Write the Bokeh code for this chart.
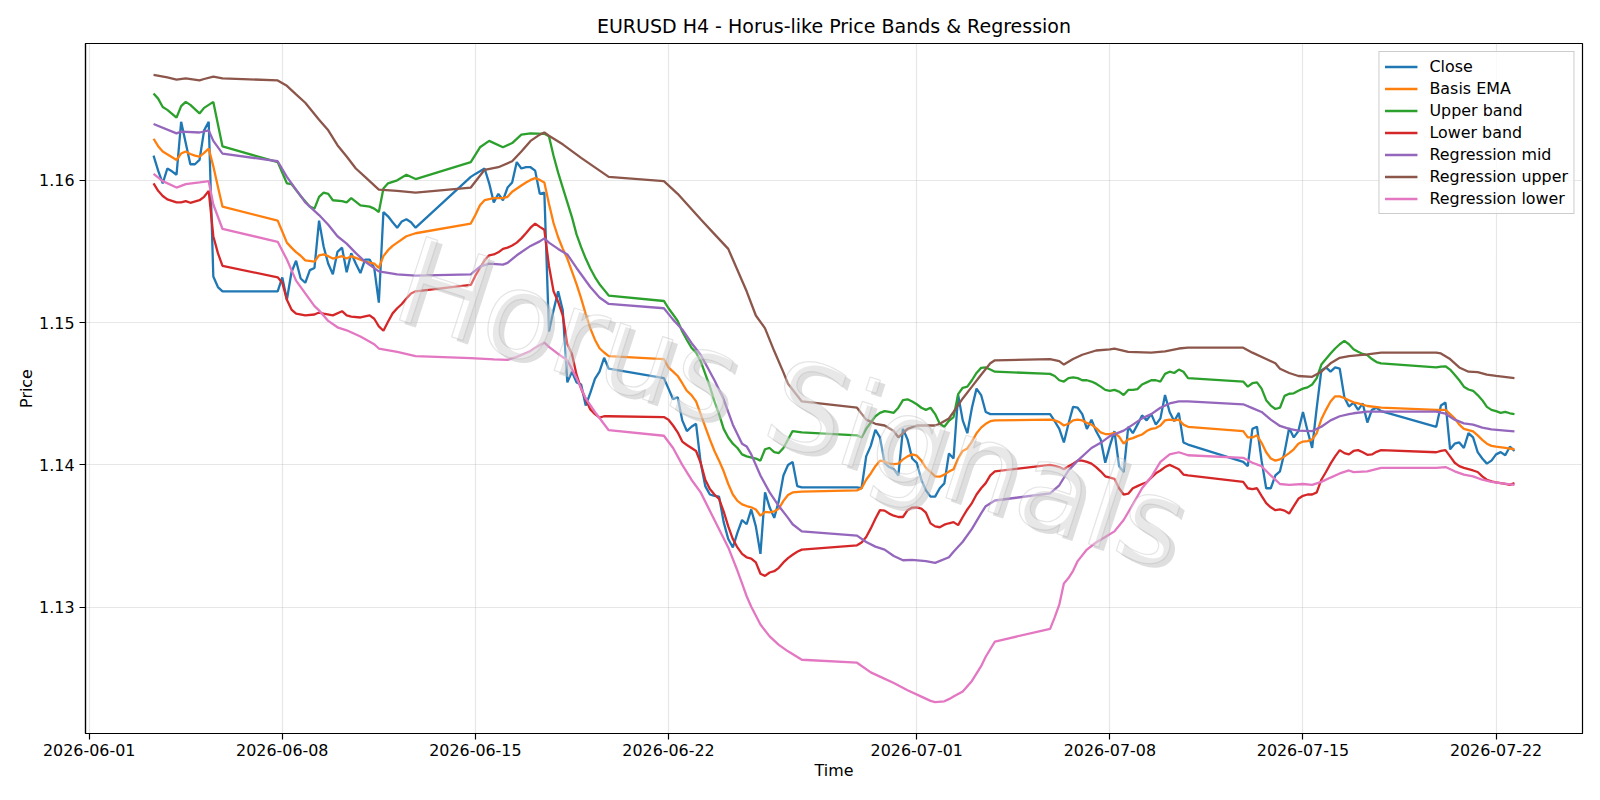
import pandas as pd
from bokeh.plotting import figure
from bokeh.models import (FixedTicker, DatetimeTickFormatter, NumeralTickFormatter,
                          Range1d, Label, Legend, LegendItem)
from bokeh.embed import file_html
from bokeh.resources import INLINE

# ---------------------------------------------------------------- data
# H4 closes, one value per trading bar (Sun 20:00 + Mon..Fri 00:00-20:00)
close_start = "2026-06-03 08:00"
close_end = "2026-07-22 16:00"
close_values = [
    1.16173, 1.16068, 1.15979, 1.16083,                      # 06-03
    1.16063, 1.16039, 1.16411, 1.16262, 1.16113, 1.16113,    # 06-04
    1.16143, 1.16351, 1.16411, 1.15324, 1.15250, 1.15220,    # 06-05
    1.15220,                                                 # 06-07
    1.15318, 1.15161, 1.15354, 1.15435, 1.15310, 1.15280,    # 06-08
    1.15369, 1.15384, 1.15717, 1.15533, 1.15414, 1.15340,    # 06-09
    1.15497, 1.15527, 1.15354, 1.15488, 1.15414, 1.15348,    # 06-10
    1.15443, 1.15443, 1.15384, 1.15140, 1.15777, 1.15747,    # 06-11
    1.15705, 1.15667, 1.15711, 1.15726, 1.15705, 1.15667,    # 06-12
    1.16024,                                                 # 06-14
    1.16045, 1.16063, 1.16083, 1.15979, 1.15845, 1.15905,    # 06-15
    1.15860, 1.15949, 1.15985, 1.16128, 1.16083, 1.16092,    # 06-16
    1.16092, 1.16068, 1.15905, 1.15914, 1.14938, 1.15086,    # 06-17
    1.15220, 1.15086, 1.14580, 1.14655, 1.14580, 1.14565,    # 06-18
    1.14417, 1.14506, 1.14604, 1.14655, 1.14753, 1.14676,    # 06-19
    1.14610,                                                 # 06-21
    1.14536, 1.14461, 1.14476, 1.14313, 1.14238, 1.14268,    # 06-22
    1.14289, 1.14015, 1.13851, 1.13792, 1.13783, 1.13777,    # 06-23
    1.13598, 1.13479, 1.13420, 1.13524, 1.13613, 1.13583,    # 06-24
    1.13687, 1.13568, 1.13375, 1.13807, 1.13702, 1.13628,    # 06-25
    1.13747, 1.13926, 1.14000, 1.14021, 1.13851, 1.13842,    # 06-26
    1.13842,                                                 # 06-28
    1.13836, 1.14060, 1.14134, 1.14247, 1.14193, 1.14015,    # 06-29
    1.13985, 1.13970, 1.13926, 1.14253, 1.14179, 1.14045,    # 06-30
    1.14015, 1.13896, 1.13821, 1.13777, 1.13777, 1.13836,    # 07-01
    1.13870, 1.14080, 1.14045, 1.14491, 1.14313, 1.14223,    # 07-02
    1.14402, 1.14536, 1.14491, 1.14372, 1.14357, 1.14357,    # 07-03
    1.14357,                                                 # 07-05
    1.14307, 1.14253, 1.14158, 1.14289, 1.14408, 1.14402,    # 07-06
    1.14357, 1.14253, 1.14318, 1.14238, 1.14179, 1.14015,    # 07-07
    1.14134, 1.14238, 1.13991, 1.13950, 1.14268, 1.14223,    # 07-08
    1.14283, 1.14348, 1.14313, 1.14357, 1.14283, 1.14327,    # 07-09
    1.14491, 1.14372, 1.14307, 1.14366, 1.14158, 1.14143,    # 07-10
    1.14021,                                                 # 07-12
    1.13991, 1.14253, 1.14268, 1.14030, 1.13836, 1.13836,    # 07-13
    1.13926, 1.13955, 1.14090, 1.14259, 1.14193, 1.14238,    # 07-14
    1.14372, 1.14238, 1.14119, 1.14402, 1.14664, 1.14685,    # 07-15
    1.14655, 1.14685, 1.14676, 1.14476, 1.14410, 1.14438,    # 07-16
    1.14387, 1.14432, 1.14298, 1.14387, 1.14402, 1.14378,    # 07-17
    1.14268,                                                 # 07-19
    1.14417, 1.14438, 1.14110, 1.14149, 1.14158, 1.14119,    # 07-20
    1.14223, 1.14193, 1.14090, 1.14045, 1.14009, 1.14030,    # 07-21
    1.14074, 1.14090, 1.14068, 1.14128, 1.14098,             # 07-22
]

# indicator lines, as ("MM-DD HH", value) vertices
basis_ema = [
    ("06-03 08", 1.16292), ("06-03 12", 1.16240), ("06-03 16", 1.16202), ("06-04 04", 1.16143),
    ("06-04 08", 1.16188), ("06-04 12", 1.16202), ("06-04 16", 1.16185), ("06-04 20", 1.16173),
    ("06-05 00", 1.16167), ("06-05 04", 1.16193), ("06-05 08", 1.16223), ("06-05 12", 1.16098),
    ("06-05 16", 1.15955), ("06-05 20", 1.15815), ("06-07 20", 1.15717), ("06-08 00", 1.15640),
    ("06-08 04", 1.15562), ("06-08 08", 1.15527), ("06-08 12", 1.15495), ("06-08 16", 1.15470),
    ("06-08 20", 1.15437), ("06-09 04", 1.15429), ("06-09 08", 1.15473), ("06-09 12", 1.15479),
    ("06-09 16", 1.15467), ("06-09 20", 1.15450), ("06-10 00", 1.15458), ("06-10 04", 1.15467),
    ("06-10 08", 1.15450), ("06-10 12", 1.15467), ("06-10 20", 1.15443), ("06-11 00", 1.15429),
    ("06-11 08", 1.15414), ("06-11 12", 1.15384), ("06-11 16", 1.15467), ("06-11 20", 1.15509),
    ("06-12 00", 1.15539), ("06-12 04", 1.15562), ("06-12 12", 1.15607), ("06-12 20", 1.15628),
    ("06-14 20", 1.15696), ("06-15 00", 1.15756), ("06-15 04", 1.15824), ("06-15 08", 1.15860),
    ("06-15 16", 1.15875), ("06-16 00", 1.15875), ("06-16 04", 1.15884), ("06-16 08", 1.15920),
    ("06-16 16", 1.15964), ("06-16 20", 1.15985), ("06-17 00", 1.16003), ("06-17 04", 1.16015),
    ("06-17 08", 1.16003), ("06-17 12", 1.15985), ("06-17 16", 1.15835), ("06-17 20", 1.15700),
    ("06-18 00", 1.15600), ("06-18 04", 1.15520), ("06-18 08", 1.15450), ("06-18 12", 1.15360),
    ("06-18 16", 1.15270), ("06-18 20", 1.15170), ("06-19 00", 1.15060), ("06-19 04", 1.14960),
    ("06-19 08", 1.14880), ("06-19 12", 1.14820), ("06-19 16", 1.14790), ("06-19 20", 1.14765),
    ("06-21 20", 1.14744), ("06-22 00", 1.14685), ("06-22 04", 1.14655), ("06-22 08", 1.14625),
    ("06-22 12", 1.14574), ("06-22 16", 1.14521), ("06-22 20", 1.14491), ("06-23 00", 1.14446),
    ("06-23 04", 1.14357), ("06-23 08", 1.14268), ("06-23 12", 1.14179), ("06-23 16", 1.14098),
    ("06-23 20", 1.14030), ("06-24 00", 1.13955), ("06-24 04", 1.13866), ("06-24 08", 1.13792),
    ("06-24 12", 1.13747), ("06-24 16", 1.13723), ("06-24 20", 1.13711), ("06-25 00", 1.13702),
    ("06-25 04", 1.13687), ("06-25 08", 1.13643), ("06-25 12", 1.13670), ("06-25 16", 1.13667),
    ("06-25 20", 1.13673), ("06-26 00", 1.13693), ("06-26 04", 1.13747), ("06-26 08", 1.13789),
    ("06-26 12", 1.13807), ("06-26 20", 1.13812), ("06-28 20", 1.13821), ("06-29 00", 1.13836),
    ("06-29 04", 1.13896), ("06-29 08", 1.13940), ("06-29 12", 1.13991), ("06-29 16", 1.14030),
    ("06-29 20", 1.14024), ("06-30 00", 1.14009), ("06-30 04", 1.14006), ("06-30 08", 1.14009),
    ("06-30 12", 1.14039), ("06-30 16", 1.14060), ("06-30 20", 1.14074), ("07-01 00", 1.14065),
    ("07-01 04", 1.14030), ("07-01 08", 1.13979), ("07-01 12", 1.13950), ("07-01 16", 1.13920),
    ("07-01 20", 1.13917), ("07-02 00", 1.13932), ("07-02 04", 1.13953), ("07-02 08", 1.13970),
    ("07-02 12", 1.14045), ("07-02 16", 1.14098), ("07-02 20", 1.14116), ("07-03 00", 1.14164),
    ("07-03 04", 1.14223), ("07-03 08", 1.14262), ("07-03 12", 1.14289), ("07-03 16", 1.14307),
    ("07-03 20", 1.14313), ("07-05 20", 1.14318), ("07-06 00", 1.14313), ("07-06 04", 1.14301),
    ("07-06 08", 1.14277), ("07-06 12", 1.14289), ("07-06 16", 1.14313), ("07-06 20", 1.14318),
    ("07-07 00", 1.14313), ("07-07 04", 1.14295), ("07-07 08", 1.14283), ("07-07 12", 1.14259),
    ("07-07 16", 1.14229), ("07-07 20", 1.14217), ("07-08 00", 1.14217), ("07-08 04", 1.14226),
    ("07-08 08", 1.14199), ("07-08 12", 1.14149), ("07-08 16", 1.14179), ("07-08 20", 1.14188),
    ("07-09 00", 1.14202), ("07-09 04", 1.14214), ("07-09 08", 1.14238), ("07-09 12", 1.14253),
    ("07-09 16", 1.14259), ("07-09 20", 1.14277), ("07-10 00", 1.14313), ("07-10 04", 1.14318),
    ("07-10 08", 1.14313), ("07-10 12", 1.14318), ("07-10 16", 1.14283), ("07-10 20", 1.14268),
    ("07-12 20", 1.14238), ("07-13 00", 1.14193), ("07-13 04", 1.14193), ("07-13 08", 1.14208),
    ("07-13 12", 1.14155), ("07-13 16", 1.14089), ("07-13 20", 1.14045), ("07-14 00", 1.14030),
    ("07-14 04", 1.14039), ("07-14 08", 1.14060), ("07-14 12", 1.14083), ("07-14 16", 1.14110),
    ("07-14 20", 1.14149), ("07-15 00", 1.14164), ("07-15 04", 1.14167), ("07-15 08", 1.14179),
    ("07-15 12", 1.14223), ("07-15 16", 1.14321), ("07-15 20", 1.14387), ("07-16 00", 1.14446),
    ("07-16 04", 1.14482), ("07-16 08", 1.14482), ("07-16 12", 1.14470), ("07-16 16", 1.14455),
    ("07-16 20", 1.14440), ("07-17 00", 1.14432), ("07-17 08", 1.14414), ("07-17 20", 1.14402),
    ("07-19 20", 1.14387), ("07-20 04", 1.14387), ("07-20 08", 1.14357), ("07-20 12", 1.14327),
    ("07-20 16", 1.14283), ("07-20 20", 1.14253), ("07-21 00", 1.14244), ("07-21 04", 1.14235),
    ("07-21 08", 1.14208), ("07-21 12", 1.14176), ("07-21 16", 1.14149), ("07-21 20", 1.14134),
    ("07-22 00", 1.14128), ("07-22 08", 1.14119), ("07-22 16", 1.14110),
]

upper_band = [
    ("06-03 08", 1.16610), ("06-03 12", 1.16574), ("06-03 16", 1.16515), ("06-03 20", 1.16495),
    ("06-04 04", 1.16440), ("06-04 08", 1.16521), ("06-04 12", 1.16551), ("06-04 16", 1.16530),
    ("06-05 00", 1.16470), ("06-05 04", 1.16509), ("06-05 08", 1.16530), ("06-05 12", 1.16551),
    ("06-05 20", 1.16238), ("06-07 20", 1.16128), ("06-08 04", 1.15979), ("06-08 08", 1.15973),
    ("06-08 16", 1.15890), ("06-09 00", 1.15815), ("06-09 04", 1.15801), ("06-09 08", 1.15884),
    ("06-09 12", 1.15914), ("06-09 16", 1.15905), ("06-09 20", 1.15860), ("06-10 04", 1.15854),
    ("06-10 08", 1.15845), ("06-10 12", 1.15875), ("06-10 20", 1.15824), ("06-11 04", 1.15815),
    ("06-11 08", 1.15801), ("06-11 12", 1.15777), ("06-11 16", 1.15943), ("06-11 20", 1.15979),
    ("06-12 04", 1.16000), ("06-12 12", 1.16039), ("06-12 20", 1.16009), ("06-14 20", 1.16128),
    ("06-15 04", 1.16232), ("06-15 12", 1.16277), ("06-16 00", 1.16232), ("06-16 08", 1.16262),
    ("06-16 16", 1.16321), ("06-17 00", 1.16330), ("06-17 12", 1.16327), ("06-17 16", 1.16310),
    ("06-17 20", 1.16173), ("06-18 00", 1.16054), ("06-18 04", 1.15949), ("06-18 08", 1.15845),
    ("06-18 12", 1.15741), ("06-18 16", 1.15620), ("06-18 20", 1.15530), ("06-19 00", 1.15450),
    ("06-19 04", 1.15380), ("06-19 08", 1.15320), ("06-19 12", 1.15270), ("06-19 16", 1.15230),
    ("06-19 20", 1.15190), ("06-21 20", 1.15152), ("06-22 00", 1.15101), ("06-22 04", 1.15057),
    ("06-22 08", 1.15012), ("06-22 12", 1.14938), ("06-22 16", 1.14878), ("06-22 20", 1.14824),
    ("06-23 00", 1.14789), ("06-23 04", 1.14729), ("06-23 08", 1.14640), ("06-23 12", 1.14551),
    ("06-23 16", 1.14446), ("06-23 20", 1.14357), ("06-24 00", 1.14253), ("06-24 04", 1.14193),
    ("06-24 08", 1.14149), ("06-24 12", 1.14119), ("06-24 16", 1.14074), ("06-24 20", 1.14060),
    ("06-25 04", 1.14045), ("06-25 08", 1.14030), ("06-25 12", 1.14110), ("06-25 16", 1.14119),
    ("06-25 20", 1.14090), ("06-26 00", 1.14083), ("06-26 04", 1.14119), ("06-26 08", 1.14179),
    ("06-26 12", 1.14238), ("06-26 20", 1.14229), ("06-28 20", 1.14208), ("06-29 00", 1.14193),
    ("06-29 04", 1.14253), ("06-29 08", 1.14298), ("06-29 12", 1.14342), ("06-29 16", 1.14366),
    ("06-29 20", 1.14378), ("06-30 00", 1.14372), ("06-30 04", 1.14366), ("06-30 08", 1.14402),
    ("06-30 12", 1.14455), ("06-30 16", 1.14461), ("06-30 20", 1.14446), ("07-01 00", 1.14426),
    ("07-01 04", 1.14402), ("07-01 08", 1.14387), ("07-01 12", 1.14402), ("07-01 16", 1.14357),
    ("07-01 20", 1.14289), ("07-02 00", 1.14268), ("07-02 04", 1.14310), ("07-02 08", 1.14336),
    ("07-02 12", 1.14497), ("07-02 16", 1.14542), ("07-02 20", 1.14550), ("07-03 00", 1.14595),
    ("07-03 04", 1.14646), ("07-03 08", 1.14682), ("07-03 12", 1.14685), ("07-03 16", 1.14670),
    ("07-03 20", 1.14655), ("07-05 20", 1.14640), ("07-06 00", 1.14625), ("07-06 04", 1.14595),
    ("07-06 08", 1.14586), ("07-06 12", 1.14610), ("07-06 16", 1.14616), ("07-06 20", 1.14610),
    ("07-07 00", 1.14595), ("07-07 04", 1.14595), ("07-07 08", 1.14586), ("07-07 12", 1.14571),
    ("07-07 16", 1.14550), ("07-07 20", 1.14527), ("07-08 00", 1.14521), ("07-08 04", 1.14527),
    ("07-08 08", 1.14515), ("07-08 12", 1.14491), ("07-08 16", 1.14527), ("07-08 20", 1.14527),
    ("07-09 00", 1.14533), ("07-09 04", 1.14565), ("07-09 08", 1.14580), ("07-09 12", 1.14595),
    ("07-09 16", 1.14595), ("07-09 20", 1.14586), ("07-10 00", 1.14640), ("07-10 04", 1.14655),
    ("07-10 08", 1.14646), ("07-10 12", 1.14670), ("07-10 16", 1.14655), ("07-10 20", 1.14610),
    ("07-12 20", 1.14586), ("07-13 00", 1.14550), ("07-13 04", 1.14574), ("07-13 08", 1.14580),
    ("07-13 12", 1.14536), ("07-13 16", 1.14455), ("07-13 20", 1.14417), ("07-14 00", 1.14393),
    ("07-14 04", 1.14402), ("07-14 08", 1.14485), ("07-14 12", 1.14500), ("07-14 16", 1.14503),
    ("07-14 20", 1.14521), ("07-15 00", 1.14536), ("07-15 04", 1.14545), ("07-15 08", 1.14565),
    ("07-15 12", 1.14610), ("07-15 16", 1.14705), ("07-15 20", 1.14744), ("07-16 00", 1.14783),
    ("07-16 04", 1.14818), ("07-16 08", 1.14848), ("07-16 12", 1.14872), ("07-16 16", 1.14848),
    ("07-16 20", 1.14813), ("07-17 00", 1.14795), ("07-17 04", 1.14780), ("07-17 08", 1.14771),
    ("07-17 12", 1.14744), ("07-17 16", 1.14723), ("07-17 20", 1.14714), ("07-19 20", 1.14685),
    ("07-20 00", 1.14691), ("07-20 04", 1.14693), ("07-20 08", 1.14670), ("07-20 12", 1.14634),
    ("07-20 16", 1.14595), ("07-20 20", 1.14550), ("07-21 00", 1.14530), ("07-21 04", 1.14521),
    ("07-21 08", 1.14491), ("07-21 12", 1.14455), ("07-21 16", 1.14408), ("07-21 20", 1.14387),
    ("07-22 00", 1.14378), ("07-22 04", 1.14366), ("07-22 08", 1.14372), ("07-22 12", 1.14363),
    ("07-22 16", 1.14357),
]

lower_band = [
    ("06-03 08", 1.15979), ("06-03 12", 1.15926), ("06-03 16", 1.15890), ("06-03 20", 1.15866),
    ("06-04 04", 1.15845), ("06-04 08", 1.15845), ("06-04 12", 1.15854), ("06-04 16", 1.15842),
    ("06-05 00", 1.15860), ("06-05 04", 1.15884), ("06-05 08", 1.15926), ("06-05 12", 1.15607),
    ("06-05 16", 1.15488), ("06-05 20", 1.15399), ("06-07 20", 1.15318), ("06-08 00", 1.15280),
    ("06-08 04", 1.15161), ("06-08 08", 1.15092), ("06-08 12", 1.15063), ("06-08 20", 1.15051),
    ("06-09 04", 1.15057), ("06-09 08", 1.15071), ("06-09 12", 1.15063), ("06-09 20", 1.15051),
    ("06-10 04", 1.15080), ("06-10 08", 1.15051), ("06-10 12", 1.15042), ("06-10 20", 1.15036),
    ("06-11 04", 1.15051), ("06-11 08", 1.15027), ("06-11 12", 1.14973), ("06-11 16", 1.14943),
    ("06-11 20", 1.15006), ("06-12 00", 1.15065), ("06-12 04", 1.15101), ("06-12 08", 1.15131),
    ("06-12 12", 1.15170), ("06-12 16", 1.15205), ("06-12 20", 1.15220), ("06-14 20", 1.15265),
    ("06-15 00", 1.15330), ("06-15 04", 1.15384), ("06-15 08", 1.15438), ("06-15 12", 1.15473),
    ("06-15 16", 1.15479), ("06-15 20", 1.15494), ("06-16 00", 1.15518), ("06-16 04", 1.15527),
    ("06-16 08", 1.15542), ("06-16 12", 1.15562), ("06-16 16", 1.15592), ("06-16 20", 1.15628),
    ("06-17 00", 1.15667), ("06-17 04", 1.15696), ("06-17 08", 1.15673), ("06-17 12", 1.15652),
    ("06-17 16", 1.15400), ("06-17 20", 1.15220), ("06-18 00", 1.15146), ("06-18 04", 1.15050),
    ("06-18 08", 1.14848), ("06-18 12", 1.14780), ("06-18 16", 1.14634), ("06-18 20", 1.14536),
    ("06-19 00", 1.14461), ("06-19 04", 1.14390), ("06-19 08", 1.14357), ("06-19 12", 1.14333),
    ("06-19 16", 1.14342), ("06-19 20", 1.14342), ("06-21 20", 1.14336), ("06-22 00", 1.14318),
    ("06-22 04", 1.14277), ("06-22 08", 1.14229), ("06-22 12", 1.14164), ("06-22 16", 1.14140),
    ("06-22 20", 1.14119), ("06-23 00", 1.14098), ("06-23 04", 1.14015), ("06-23 08", 1.13896),
    ("06-23 12", 1.13830), ("06-23 16", 1.13792), ("06-23 20", 1.13762), ("06-24 00", 1.13673),
    ("06-24 04", 1.13568), ("06-24 08", 1.13479), ("06-24 12", 1.13420), ("06-24 16", 1.13375),
    ("06-24 20", 1.13351), ("06-25 00", 1.13342), ("06-25 04", 1.13315), ("06-25 08", 1.13235),
    ("06-25 12", 1.13220), ("06-25 16", 1.13244), ("06-25 20", 1.13253), ("06-26 00", 1.13277),
    ("06-26 04", 1.13315), ("06-26 08", 1.13345), ("06-26 12", 1.13369), ("06-26 16", 1.13390),
    ("06-26 20", 1.13405), ("06-28 20", 1.13435), ("06-29 00", 1.13455), ("06-29 04", 1.13494),
    ("06-29 08", 1.13554), ("06-29 12", 1.13622), ("06-29 16", 1.13682), ("06-29 20", 1.13679),
    ("06-30 00", 1.13658), ("06-30 04", 1.13643), ("06-30 08", 1.13634), ("06-30 12", 1.13634),
    ("06-30 16", 1.13682), ("06-30 20", 1.13700), ("07-01 00", 1.13702), ("07-01 04", 1.13693),
    ("07-01 08", 1.13664), ("07-01 12", 1.13589), ("07-01 16", 1.13568), ("07-01 20", 1.13562),
    ("07-02 00", 1.13580), ("07-02 04", 1.13590), ("07-02 08", 1.13598), ("07-02 12", 1.13577),
    ("07-02 16", 1.13634), ("07-02 20", 1.13687), ("07-03 00", 1.13732), ("07-03 04", 1.13792),
    ("07-03 08", 1.13836), ("07-03 12", 1.13872), ("07-03 16", 1.13926), ("07-03 20", 1.13955),
    ("07-05 20", 1.14000), ("07-06 00", 1.13994), ("07-06 04", 1.13985), ("07-06 08", 1.13970),
    ("07-06 12", 1.13991), ("07-06 16", 1.14009), ("07-06 20", 1.14030), ("07-07 00", 1.14030),
    ("07-07 04", 1.14021), ("07-07 08", 1.14009), ("07-07 12", 1.13985), ("07-07 16", 1.13955),
    ("07-07 20", 1.13920), ("07-08 00", 1.13911), ("07-08 04", 1.13902), ("07-08 08", 1.13836),
    ("07-08 12", 1.13792), ("07-08 16", 1.13798), ("07-08 20", 1.13836), ("07-09 00", 1.13851),
    ("07-09 04", 1.13866), ("07-09 08", 1.13878), ("07-09 12", 1.13911), ("07-09 16", 1.13941),
    ("07-09 20", 1.13961), ("07-10 00", 1.13985), ("07-10 04", 1.14000), ("07-10 08", 1.13985),
    ("07-10 12", 1.13970), ("07-10 16", 1.13932), ("07-10 20", 1.13926), ("07-12 20", 1.13881),
    ("07-13 00", 1.13836), ("07-13 04", 1.13830), ("07-13 08", 1.13836), ("07-13 12", 1.13783),
    ("07-13 16", 1.13732), ("07-13 20", 1.13702), ("07-14 00", 1.13682), ("07-14 04", 1.13687),
    ("07-14 08", 1.13679), ("07-14 12", 1.13658), ("07-14 16", 1.13711), ("07-14 20", 1.13762),
    ("07-15 00", 1.13783), ("07-15 04", 1.13792), ("07-15 08", 1.13792), ("07-15 12", 1.13807),
    ("07-15 16", 1.13896), ("07-15 20", 1.13950), ("07-16 00", 1.14009), ("07-16 04", 1.14060),
    ("07-16 08", 1.14104), ("07-16 12", 1.14083), ("07-16 16", 1.14074), ("07-16 20", 1.14098),
    ("07-17 00", 1.14104), ("07-17 04", 1.14089), ("07-17 08", 1.14071), ("07-17 12", 1.14074),
    ("07-17 16", 1.14092), ("07-17 20", 1.14104), ("07-19 20", 1.14089), ("07-20 00", 1.14098),
    ("07-20 04", 1.14104), ("07-20 08", 1.14060), ("07-20 12", 1.14015), ("07-20 16", 1.13991),
    ("07-20 20", 1.13979), ("07-21 00", 1.13970), ("07-21 04", 1.13961), ("07-21 08", 1.13950),
    ("07-21 12", 1.13920), ("07-21 16", 1.13896), ("07-21 20", 1.13884), ("07-22 00", 1.13878),
    ("07-22 08", 1.13866), ("07-22 12", 1.13860), ("07-22 16", 1.13872),
]

regression_mid = [
    ("06-03 08", 1.16396), ("06-04 04", 1.16330), ("06-04 08", 1.16342), ("06-05 00", 1.16336),
    ("06-05 08", 1.16351), ("06-05 12", 1.16277), ("06-05 20", 1.16188), ("06-07 20", 1.16134),
    ("06-08 04", 1.16024), ("06-08 12", 1.15935), ("06-08 20", 1.15845), ("06-09 08", 1.15756),
    ("06-09 16", 1.15688), ("06-10 00", 1.15607), ("06-10 08", 1.15555), ("06-10 16", 1.15488),
    ("06-11 00", 1.15429), ("06-11 12", 1.15360), ("06-12 04", 1.15339), ("06-12 20", 1.15330),
    ("06-14 20", 1.15339), ("06-15 04", 1.15393), ("06-15 12", 1.15414), ("06-16 00", 1.15408),
    ("06-16 04", 1.15420), ("06-16 12", 1.15473), ("06-17 00", 1.15539), ("06-17 08", 1.15571),
    ("06-17 12", 1.15592), ("06-17 16", 1.15562), ("06-18 00", 1.15518), ("06-18 08", 1.15479),
    ("06-18 16", 1.15384), ("06-19 04", 1.15250), ("06-19 12", 1.15176), ("06-19 20", 1.15131),
    ("06-21 20", 1.15101), ("06-22 04", 1.15021), ("06-22 12", 1.14952), ("06-22 20", 1.14857),
    ("06-23 04", 1.14774), ("06-23 16", 1.14595), ("06-24 00", 1.14461), ("06-24 08", 1.14283),
    ("06-24 16", 1.14149), ("06-24 20", 1.14130), ("06-25 00", 1.14074), ("06-25 08", 1.13926),
    ("06-25 16", 1.13807), ("06-26 00", 1.13711), ("06-26 08", 1.13628), ("06-26 12", 1.13583),
    ("06-26 20", 1.13533), ("06-28 20", 1.13503), ("06-29 04", 1.13458), ("06-29 12", 1.13426),
    ("06-29 20", 1.13405), ("06-30 04", 1.13360), ("06-30 12", 1.13330), ("06-30 20", 1.13333),
    ("07-01 08", 1.13324), ("07-01 16", 1.13312), ("07-02 04", 1.13351), ("07-02 08", 1.13390),
    ("07-02 16", 1.13460), ("07-03 00", 1.13550), ("07-03 08", 1.13660), ("07-03 12", 1.13710),
    ("07-03 20", 1.13750), ("07-05 20", 1.13800), ("07-06 04", 1.13857), ("07-06 12", 1.13961),
    ("07-06 20", 1.14030), ("07-07 08", 1.14119), ("07-07 16", 1.14155), ("07-08 00", 1.14202),
    ("07-08 12", 1.14241), ("07-08 20", 1.14283), ("07-09 04", 1.14327), ("07-09 12", 1.14357),
    ("07-09 20", 1.14402), ("07-10 04", 1.14432), ("07-10 12", 1.14446), ("07-10 20", 1.14446),
    ("07-12 20", 1.14426), ("07-13 04", 1.14399), ("07-13 12", 1.14372), ("07-13 20", 1.14318),
    ("07-14 04", 1.14274), ("07-14 12", 1.14253), ("07-14 20", 1.14241), ("07-15 08", 1.14238),
    ("07-15 16", 1.14268), ("07-16 00", 1.14313), ("07-16 08", 1.14342), ("07-16 16", 1.14357),
    ("07-16 20", 1.14363), ("07-17 08", 1.14375), ("07-17 20", 1.14375), ("07-19 20", 1.14375),
    ("07-20 04", 1.14360), ("07-20 12", 1.14318), ("07-20 20", 1.14292), ("07-21 04", 1.14283),
    ("07-21 12", 1.14262), ("07-21 20", 1.14250), ("07-22 08", 1.14241), ("07-22 16", 1.14235),
]

regression_upper = [
    ("06-03 08", 1.16741), ("06-03 20", 1.16723), ("06-04 04", 1.16708), ("06-04 12", 1.16717),
    ("06-05 00", 1.16702), ("06-05 04", 1.16712), ("06-05 12", 1.16729), ("06-05 20", 1.16717),
    ("06-07 20", 1.16702), ("06-08 04", 1.16664), ("06-08 12", 1.16604), ("06-08 20", 1.16545),
    ("06-09 08", 1.16426), ("06-09 16", 1.16351), ("06-10 00", 1.16247), ("06-10 08", 1.16167),
    ("06-10 16", 1.16083), ("06-11 00", 1.16024), ("06-11 12", 1.15935), ("06-12 04", 1.15926),
    ("06-12 20", 1.15914), ("06-14 20", 1.15949), ("06-15 08", 1.16074), ("06-15 20", 1.16092),
    ("06-16 08", 1.16134), ("06-16 16", 1.16202), ("06-17 00", 1.16277), ("06-17 08", 1.16321),
    ("06-17 12", 1.16336), ("06-17 16", 1.16313), ("06-18 04", 1.16253), ("06-18 20", 1.16158),
    ("06-19 20", 1.16024), ("06-21 20", 1.15994), ("06-22 08", 1.15905), ("06-23 04", 1.15726),
    ("06-23 16", 1.15622), ("06-24 04", 1.15518), ("06-24 20", 1.15220), ("06-25 04", 1.15050),
    ("06-25 12", 1.14960), ("06-25 20", 1.14800), ("06-26 04", 1.14650), ("06-26 08", 1.14570),
    ("06-26 20", 1.14446), ("06-28 20", 1.14402), ("06-29 04", 1.14318), ("06-29 12", 1.14289),
    ("06-29 20", 1.14277), ("06-30 04", 1.14238), ("06-30 08", 1.14193), ("06-30 16", 1.14253),
    ("07-01 00", 1.14277), ("07-01 16", 1.14277), ("07-01 20", 1.14289), ("07-02 04", 1.14327),
    ("07-02 08", 1.14372), ("07-02 16", 1.14467), ("07-03 00", 1.14550), ("07-03 08", 1.14634),
    ("07-03 16", 1.14714), ("07-03 20", 1.14735), ("07-05 20", 1.14744), ("07-06 04", 1.14729),
    ("07-06 08", 1.14705), ("07-06 16", 1.14744), ("07-07 00", 1.14774), ("07-07 12", 1.14804),
    ("07-08 00", 1.14812), ("07-08 04", 1.14818), ("07-08 16", 1.14795), ("07-09 12", 1.14789),
    ("07-10 00", 1.14798), ("07-10 12", 1.14818), ("07-10 20", 1.14824), ("07-12 20", 1.14824),
    ("07-13 04", 1.14789), ("07-13 16", 1.14744), ("07-14 00", 1.14714), ("07-14 04", 1.14676),
    ("07-14 12", 1.14646), ("07-14 20", 1.14625), ("07-15 08", 1.14619), ("07-15 16", 1.14655),
    ("07-16 00", 1.14714), ("07-16 08", 1.14753), ("07-16 16", 1.14765), ("07-17 08", 1.14777),
    ("07-17 20", 1.14789), ("07-19 20", 1.14789), ("07-20 00", 1.14783), ("07-20 08", 1.14744),
    ("07-20 16", 1.14685), ("07-21 00", 1.14655), ("07-21 08", 1.14652), ("07-21 16", 1.14634),
    ("07-22 00", 1.14625), ("07-22 16", 1.14610),
]

regression_lower = [
    ("06-03 08", 1.16045), ("06-03 16", 1.15994), ("06-04 04", 1.15949), ("06-04 12", 1.15973),
    ("06-05 00", 1.15985), ("06-05 08", 1.15994), ("06-05 12", 1.15830), ("06-05 20", 1.15658),
    ("06-07 20", 1.15568), ("06-08 04", 1.15443), ("06-08 12", 1.15295), ("06-08 20", 1.15205),
    ("06-09 04", 1.15116), ("06-09 08", 1.15086), ("06-09 16", 1.15012), ("06-10 00", 1.14967),
    ("06-10 08", 1.14946), ("06-10 20", 1.14902), ("06-11 08", 1.14848), ("06-11 12", 1.14818),
    ("06-12 04", 1.14795), ("06-12 20", 1.14765), ("06-14 20", 1.14750), ("06-15 16", 1.14741),
    ("06-16 04", 1.14738), ("06-16 12", 1.14759), ("06-17 00", 1.14801), ("06-17 04", 1.14824),
    ("06-17 12", 1.14860), ("06-17 16", 1.14830), ("06-18 00", 1.14780), ("06-18 08", 1.14735),
    ("06-18 16", 1.14610), ("06-19 00", 1.14467), ("06-19 08", 1.14372), ("06-19 20", 1.14244),
    ("06-21 20", 1.14205), ("06-22 04", 1.14119), ("06-22 12", 1.14000), ("06-22 20", 1.13896),
    ("06-23 04", 1.13807), ("06-23 16", 1.13613), ("06-24 04", 1.13420), ("06-24 12", 1.13256),
    ("06-24 16", 1.13167), ("06-24 20", 1.13077), ("06-25 00", 1.13003), ("06-25 08", 1.12878),
    ("06-25 16", 1.12795), ("06-26 00", 1.12735), ("06-26 08", 1.12690), ("06-26 20", 1.12631),
    ("06-28 20", 1.12610), ("06-29 08", 1.12542), ("06-29 16", 1.12512), ("06-30 04", 1.12467),
    ("06-30 16", 1.12417), ("07-01 04", 1.12372), ("07-01 12", 1.12342), ("07-01 16", 1.12333),
    ("07-02 00", 1.12339), ("07-02 04", 1.12354), ("07-02 08", 1.12372), ("07-02 16", 1.12408),
    ("07-03 00", 1.12482), ("07-03 08", 1.12586), ("07-03 12", 1.12652), ("07-03 20", 1.12759),
    ("07-05 20", 1.12848), ("07-06 00", 1.12929), ("07-06 04", 1.13018), ("07-06 08", 1.13167),
    ("07-06 12", 1.13205), ("07-06 16", 1.13256), ("07-06 20", 1.13324), ("07-07 04", 1.13405),
    ("07-07 12", 1.13455), ("07-07 20", 1.13494), ("07-08 04", 1.13533), ("07-08 12", 1.13613),
    ("07-08 20", 1.13723), ("07-09 04", 1.13836), ("07-09 12", 1.13915), ("07-09 20", 1.14021),
    ("07-10 04", 1.14074), ("07-10 12", 1.14089), ("07-10 20", 1.14068), ("07-12 20", 1.14050),
    ("07-13 04", 1.14015), ("07-13 12", 1.13991), ("07-13 20", 1.13926), ("07-14 04", 1.13866),
    ("07-14 12", 1.13860), ("07-15 00", 1.13866), ("07-15 08", 1.13860), ("07-15 16", 1.13881),
    ("07-16 00", 1.13911), ("07-16 08", 1.13940), ("07-16 16", 1.13961), ("07-16 20", 1.13949),
    ("07-17 08", 1.13955), ("07-17 20", 1.13979), ("07-19 20", 1.13979), ("07-20 04", 1.13985),
    ("07-20 12", 1.13955), ("07-20 20", 1.13932), ("07-21 04", 1.13920), ("07-21 12", 1.13896),
    ("07-21 20", 1.13881), ("07-22 04", 1.13872), ("07-22 16", 1.13860),
]

x_tick_dates = ["2026-06-01", "2026-06-08", "2026-06-15", "2026-06-22",
                "2026-07-01", "2026-07-08", "2026-07-15", "2026-07-22"]
y_tick_values = [1.13, 1.14, 1.15, 1.16]

series_names = ["Close", "Basis EMA", "Upper band", "Lower band",
                "Regression mid", "Regression upper", "Regression lower"]
series_colors = ["#1f77b4", "#ff7f0e", "#2ca02c", "#d62728",
                 "#9467bd", "#8c564b", "#e377c2"]

FONT = "DejaVu Sans"
LABEL_SIZE = "15.9px"
TITLE_SIZE = "19px"


# ---------------------------------------------------------------- helpers
def h4_bars(start, end):
    """Trading-session H4 bar times: Sunday 20:00 plus Mon-Fri every 4 hours."""
    idx = pd.date_range(start, end, freq="4h")
    keep = (idx.dayofweek < 5) | ((idx.dayofweek == 6) & (idx.hour == 20))
    return idx[keep]


def unpack(points):
    times = pd.to_datetime(["2026-" + stamp + ":00" for stamp, _ in points])
    values = [v for _, v in points]
    return times, values


close_times = h4_bars(close_start, close_end)
assert len(close_times) == len(close_values), (len(close_times), len(close_values))

lines = [(close_times, close_values)] + [
    unpack(s) for s in (basis_ema, upper_band, lower_band,
                        regression_mid, regression_upper, regression_lower)
]

# axis limits with a 5 % margin on each side
t_min = min(t.min() for t, _ in lines)
t_max = max(t.max() for t, _ in lines)
v_min = min(min(v) for _, v in lines)
v_max = max(max(v) for _, v in lines)
t_pad = (t_max - t_min) * 0.05
v_pad = (v_max - v_min) * 0.05
x_lo, x_hi = t_min - t_pad, t_max + t_pad
y_lo, y_hi = v_min - v_pad, v_max + v_pad

# ---------------------------------------------------------------- figure
p = figure(
    width=1600, height=800,
    x_axis_type="datetime",
    x_range=Range1d(x_lo, x_hi), y_range=Range1d(y_lo, y_hi),
    output_backend="svg", toolbar_location=None,
    min_border_left=85, min_border_right=18, min_border_top=43, min_border_bottom=67,
    background_fill_color="white", border_fill_color="white",
)

p.title.text = "EURUSD H4 - Horus-like Price Bands & Regression"
p.title.align = "center"
p.title.text_font = FONT
p.title.text_font_size = TITLE_SIZE
p.title.text_font_style = "normal"
p.title.text_color = "black"
p.title.standoff = 13

p.outline_line_color = "black"
p.outline_line_width = 1.2
p.outline_line_alpha = 1

for ax in (p.xaxis[0], p.yaxis[0]):
    ax.axis_line_color = "black"
    ax.axis_line_width = 1.2
    ax.major_tick_line_color = "black"
    ax.major_tick_line_width = 1.2
    ax.major_tick_out = 6
    ax.major_tick_in = 0
    ax.minor_tick_line_color = None
    ax.major_label_text_font = FONT
    ax.major_label_text_font_size = LABEL_SIZE
    ax.major_label_text_color = "black"
    ax.axis_label_text_font = FONT
    ax.axis_label_text_font_size = LABEL_SIZE
    ax.axis_label_text_font_style = "normal"
    ax.axis_label_text_color = "black"

p.xaxis.axis_label = "Time"
p.yaxis.axis_label = "Price"
p.xaxis.axis_label_standoff = 2
p.yaxis.axis_label_standoff = 0
p.xaxis.major_label_standoff = 4
p.yaxis.major_label_standoff = 5

x_ticks_ms = [pd.Timestamp(d).value / 1e6 for d in x_tick_dates]
p.xaxis.ticker = FixedTicker(ticks=x_ticks_ms)
fmt = "%Y-%m-%d"
p.xaxis.formatter = DatetimeTickFormatter(
    milliseconds=fmt, seconds=fmt, minsec=fmt, minutes=fmt, hourmin=fmt,
    hours=fmt, days=fmt, months=fmt, years=fmt)
p.yaxis.ticker = FixedTicker(ticks=y_tick_values)
p.yaxis.formatter = NumeralTickFormatter(format="0.00")

p.xgrid.ticker = FixedTicker(ticks=x_ticks_ms)
p.ygrid.ticker = FixedTicker(ticks=y_tick_values)
p.grid.grid_line_color = "#b0b0b0"
p.grid.grid_line_alpha = 0.3
p.grid.grid_line_width = 1.2

items = []
for name, color, (t, v) in zip(series_names, series_colors, lines):
    r = p.line(t, v, line_color=color, line_width=2.3)
    items.append(LegendItem(label=name, renderers=[r]))

legend = Legend(
    items=items, location="top_right",
    label_text_font=FONT, label_text_font_size=LABEL_SIZE, label_text_color="black",
    glyph_width=33, glyph_height=19, label_height=19, label_standoff=12,
    spacing=3, padding=5, margin=8,
    border_line_color="#cccccc", border_line_width=1, border_line_alpha=1,
    background_fill_color="white", background_fill_alpha=0.8,
)
p.add_layout(legend)

# watermark across the middle of the chart
x_lo_ms = x_lo.value / 1e6
x_hi_ms = x_hi.value / 1e6
wm_x = x_lo_ms + 0.4715 * (x_hi_ms - x_lo_ms)
wm_y = y_lo + 0.4780 * (y_hi - y_lo)
wm_common = dict(
    x=wm_x, y=wm_y, text="Horus Signals", angle=-18, angle_units="deg",
    text_font=FONT, text_font_size="120px", text_align="center",
    text_baseline="alphabetic",
)
p.add_layout(Label(x_offset=5, y_offset=-4, text_color="#bdbdbd", text_alpha=0.5,
                   **wm_common))
p.add_layout(Label(text_color="white", text_alpha=0.3,
                   text_outline_color="#a8a8a8", **wm_common))

open("out.html", "w").write(file_html(p, INLINE))
